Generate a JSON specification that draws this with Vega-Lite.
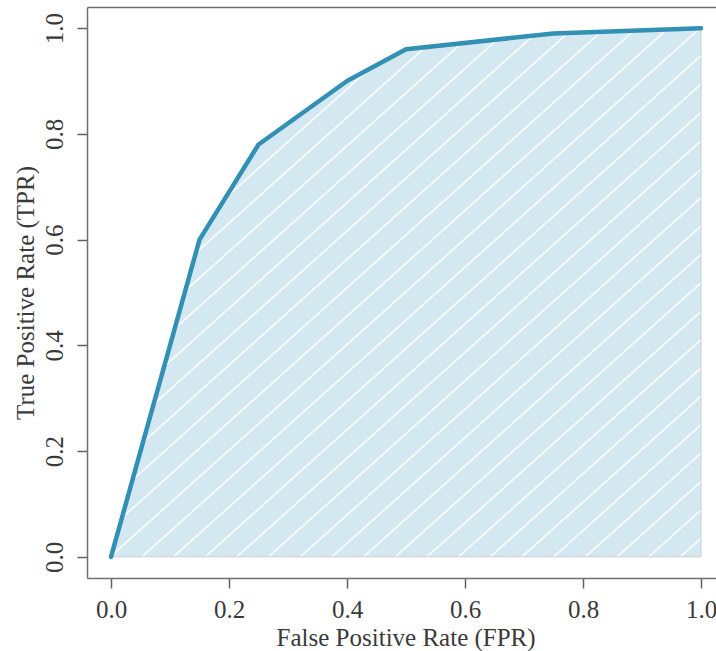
{
  "$schema": "https://vega.github.io/schema/vega-lite/v6.json",
  "autosize": "none",
  "width": 629,
  "height": 571,
  "padding": {"left": 87, "top": 7, "right": 0, "bottom": 73},
  "background": "white",
  "config": {
    "view": {"stroke": null},
    "font": "Liberation Serif",
    "axis": {
      "labelFont": "Liberation Serif",
      "titleFont": "Liberation Serif",
      "labelFontSize": 25,
      "titleFontSize": 25,
      "titleFontWeight": "normal",
      "labelColor": "#3a3a3a",
      "titleColor": "#3a3a3a",
      "grid": false,
      "domain": true,
      "domainColor": "#707070",
      "domainWidth": 1.5,
      "tickColor": "#606060",
      "tickWidth": 1.5,
      "tickSize": 10
    }
  },
  "data": {
    "values": [
      {"fpr": 0.0, "tpr": 0.0},
      {"fpr": 0.15, "tpr": 0.6},
      {"fpr": 0.25, "tpr": 0.78},
      {"fpr": 0.4, "tpr": 0.9},
      {"fpr": 0.5, "tpr": 0.96},
      {"fpr": 0.75, "tpr": 0.99},
      {"fpr": 1.0, "tpr": 1.0}
    ]
  },
  "encoding": {
    "x": {
      "field": "fpr",
      "type": "quantitative",
      "scale": {"domain": [-0.0407, 1.0254], "nice": false, "zero": false},
      "axis": {
        "values": [0, 0.2, 0.4, 0.6, 0.8, 1.0],
        "format": ".1f",
        "labelBaseline": "alphabetic",
        "labelPadding": 29,
        "labelFlush": false,
        "labelOverlap": false,
        "title": "False Positive Rate (FPR)",
        "titleX": 318.6,
        "titleY": 67,
        "titleAlign": "center",
        "titleBaseline": "alphabetic",
        "titleAnchor": null
      }
    },
    "y": {
      "field": "tpr",
      "type": "quantitative",
      "scale": {"domain": [-0.04, 1.04], "nice": false, "zero": false},
      "axis": {
        "values": [0, 0.2, 0.4, 0.6, 0.8, 1.0],
        "format": ".1f",
        "labelAngle": 270,
        "labelAlign": "center",
        "labelBaseline": "alphabetic",
        "labelPadding": 15,
        "labelFlush": false,
        "labelOverlap": false,
        "title": "True Positive Rate (TPR)",
        "titleAngle": 270,
        "titleX": -54,
        "titleY": 285.5,
        "titleAlign": "center",
        "titleBaseline": "alphabetic",
        "titleAnchor": null
      }
    }
  },
  "resolve": {"axis": {"x": "independent"}},
  "layer": [
    {
      "encoding": {
        "x": {
          "field": "fpr",
          "type": "quantitative",
          "scale": {"domain": [-0.0407, 1.0254], "nice": false, "zero": false},
          "axis": {"orient": "top", "labels": false, "ticks": false, "title": null, "domain": true}
        }
      },
      "mark": {
        "type": "area",
        "stroke": "#c9cfd2",
        "strokeWidth": 1,
        "fill": {
          "gradient": "linear",
          "x1": 0, "y1": 0, "x2": 1, "y2": 1,
          "stops": [
            {"offset": 0, "color": "#d4e8f1"},
            {"offset": 0.0143, "color": "#d4e8f1"}, {"offset": 0.0155, "color": "#fbfdfe"}, {"offset": 0.0163, "color": "#fbfdfe"}, {"offset": 0.0175, "color": "#d4e8f1"},
            {"offset": 0.04115, "color": "#d4e8f1"}, {"offset": 0.04235, "color": "#fbfdfe"}, {"offset": 0.04315, "color": "#fbfdfe"}, {"offset": 0.04435, "color": "#d4e8f1"},
            {"offset": 0.068, "color": "#d4e8f1"}, {"offset": 0.0692, "color": "#fbfdfe"}, {"offset": 0.07, "color": "#fbfdfe"}, {"offset": 0.0712, "color": "#d4e8f1"},
            {"offset": 0.09485, "color": "#d4e8f1"}, {"offset": 0.09605, "color": "#fbfdfe"}, {"offset": 0.09685, "color": "#fbfdfe"}, {"offset": 0.09805, "color": "#d4e8f1"},
            {"offset": 0.1217, "color": "#d4e8f1"}, {"offset": 0.1229, "color": "#fbfdfe"}, {"offset": 0.1237, "color": "#fbfdfe"}, {"offset": 0.1249, "color": "#d4e8f1"},
            {"offset": 0.14855, "color": "#d4e8f1"}, {"offset": 0.14975, "color": "#fbfdfe"}, {"offset": 0.15055, "color": "#fbfdfe"}, {"offset": 0.15175, "color": "#d4e8f1"},
            {"offset": 0.1754, "color": "#d4e8f1"}, {"offset": 0.1766, "color": "#fbfdfe"}, {"offset": 0.1774, "color": "#fbfdfe"}, {"offset": 0.1786, "color": "#d4e8f1"},
            {"offset": 0.20225, "color": "#d4e8f1"}, {"offset": 0.20345, "color": "#fbfdfe"}, {"offset": 0.20425, "color": "#fbfdfe"}, {"offset": 0.20545, "color": "#d4e8f1"},
            {"offset": 0.2291, "color": "#d4e8f1"}, {"offset": 0.2303, "color": "#fbfdfe"}, {"offset": 0.2311, "color": "#fbfdfe"}, {"offset": 0.2323, "color": "#d4e8f1"},
            {"offset": 0.25595, "color": "#d4e8f1"}, {"offset": 0.25715, "color": "#fbfdfe"}, {"offset": 0.25795, "color": "#fbfdfe"}, {"offset": 0.25915, "color": "#d4e8f1"},
            {"offset": 0.2828, "color": "#d4e8f1"}, {"offset": 0.284, "color": "#fbfdfe"}, {"offset": 0.2848, "color": "#fbfdfe"}, {"offset": 0.286, "color": "#d4e8f1"},
            {"offset": 0.30965, "color": "#d4e8f1"}, {"offset": 0.31085, "color": "#fbfdfe"}, {"offset": 0.31165, "color": "#fbfdfe"}, {"offset": 0.31285, "color": "#d4e8f1"},
            {"offset": 0.3365, "color": "#d4e8f1"}, {"offset": 0.3377, "color": "#fbfdfe"}, {"offset": 0.3385, "color": "#fbfdfe"}, {"offset": 0.3397, "color": "#d4e8f1"},
            {"offset": 0.36335, "color": "#d4e8f1"}, {"offset": 0.36455, "color": "#fbfdfe"}, {"offset": 0.36535, "color": "#fbfdfe"}, {"offset": 0.36655, "color": "#d4e8f1"},
            {"offset": 0.3902, "color": "#d4e8f1"}, {"offset": 0.3914, "color": "#fbfdfe"}, {"offset": 0.3922, "color": "#fbfdfe"}, {"offset": 0.3934, "color": "#d4e8f1"},
            {"offset": 0.41705, "color": "#d4e8f1"}, {"offset": 0.41825, "color": "#fbfdfe"}, {"offset": 0.41905, "color": "#fbfdfe"}, {"offset": 0.42025, "color": "#d4e8f1"},
            {"offset": 0.4439, "color": "#d4e8f1"}, {"offset": 0.4451, "color": "#fbfdfe"}, {"offset": 0.4459, "color": "#fbfdfe"}, {"offset": 0.4471, "color": "#d4e8f1"},
            {"offset": 0.47075, "color": "#d4e8f1"}, {"offset": 0.47195, "color": "#fbfdfe"}, {"offset": 0.47275, "color": "#fbfdfe"}, {"offset": 0.47395, "color": "#d4e8f1"},
            {"offset": 0.4976, "color": "#d4e8f1"}, {"offset": 0.4988, "color": "#fbfdfe"}, {"offset": 0.4996, "color": "#fbfdfe"}, {"offset": 0.5008, "color": "#d4e8f1"},
            {"offset": 0.52445, "color": "#d4e8f1"}, {"offset": 0.52565, "color": "#fbfdfe"}, {"offset": 0.52645, "color": "#fbfdfe"}, {"offset": 0.52765, "color": "#d4e8f1"},
            {"offset": 0.5513, "color": "#d4e8f1"}, {"offset": 0.5525, "color": "#fbfdfe"}, {"offset": 0.5533, "color": "#fbfdfe"}, {"offset": 0.5545, "color": "#d4e8f1"},
            {"offset": 0.57815, "color": "#d4e8f1"}, {"offset": 0.57935, "color": "#fbfdfe"}, {"offset": 0.58015, "color": "#fbfdfe"}, {"offset": 0.58135, "color": "#d4e8f1"},
            {"offset": 0.605, "color": "#d4e8f1"}, {"offset": 0.6062, "color": "#fbfdfe"}, {"offset": 0.607, "color": "#fbfdfe"}, {"offset": 0.6082, "color": "#d4e8f1"},
            {"offset": 0.63185, "color": "#d4e8f1"}, {"offset": 0.63305, "color": "#fbfdfe"}, {"offset": 0.63385, "color": "#fbfdfe"}, {"offset": 0.63505, "color": "#d4e8f1"},
            {"offset": 0.6587, "color": "#d4e8f1"}, {"offset": 0.6599, "color": "#fbfdfe"}, {"offset": 0.6607, "color": "#fbfdfe"}, {"offset": 0.6619, "color": "#d4e8f1"},
            {"offset": 0.68555, "color": "#d4e8f1"}, {"offset": 0.68675, "color": "#fbfdfe"}, {"offset": 0.68755, "color": "#fbfdfe"}, {"offset": 0.68875, "color": "#d4e8f1"},
            {"offset": 0.7124, "color": "#d4e8f1"}, {"offset": 0.7136, "color": "#fbfdfe"}, {"offset": 0.7144, "color": "#fbfdfe"}, {"offset": 0.7156, "color": "#d4e8f1"},
            {"offset": 0.73925, "color": "#d4e8f1"}, {"offset": 0.74045, "color": "#fbfdfe"}, {"offset": 0.74125, "color": "#fbfdfe"}, {"offset": 0.74245, "color": "#d4e8f1"},
            {"offset": 0.7661, "color": "#d4e8f1"}, {"offset": 0.7673, "color": "#fbfdfe"}, {"offset": 0.7681, "color": "#fbfdfe"}, {"offset": 0.7693, "color": "#d4e8f1"},
            {"offset": 0.79295, "color": "#d4e8f1"}, {"offset": 0.79415, "color": "#fbfdfe"}, {"offset": 0.79495, "color": "#fbfdfe"}, {"offset": 0.79615, "color": "#d4e8f1"},
            {"offset": 0.8198, "color": "#d4e8f1"}, {"offset": 0.821, "color": "#fbfdfe"}, {"offset": 0.8218, "color": "#fbfdfe"}, {"offset": 0.823, "color": "#d4e8f1"},
            {"offset": 0.84665, "color": "#d4e8f1"}, {"offset": 0.84785, "color": "#fbfdfe"}, {"offset": 0.84865, "color": "#fbfdfe"}, {"offset": 0.84985, "color": "#d4e8f1"},
            {"offset": 0.8735, "color": "#d4e8f1"}, {"offset": 0.8747, "color": "#fbfdfe"}, {"offset": 0.8755, "color": "#fbfdfe"}, {"offset": 0.8767, "color": "#d4e8f1"},
            {"offset": 0.90035, "color": "#d4e8f1"}, {"offset": 0.90155, "color": "#fbfdfe"}, {"offset": 0.90235, "color": "#fbfdfe"}, {"offset": 0.90355, "color": "#d4e8f1"},
            {"offset": 0.9272, "color": "#d4e8f1"}, {"offset": 0.9284, "color": "#fbfdfe"}, {"offset": 0.9292, "color": "#fbfdfe"}, {"offset": 0.9304, "color": "#d4e8f1"},
            {"offset": 0.95405, "color": "#d4e8f1"}, {"offset": 0.95525, "color": "#fbfdfe"}, {"offset": 0.95605, "color": "#fbfdfe"}, {"offset": 0.95725, "color": "#d4e8f1"},
            {"offset": 0.9809, "color": "#d4e8f1"}, {"offset": 0.9821, "color": "#fbfdfe"}, {"offset": 0.9829, "color": "#fbfdfe"}, {"offset": 0.9841, "color": "#d4e8f1"},
            {"offset": 1, "color": "#d4e8f1"}
          ]
        }
      }
    },
    {
      "mark": {
        "type": "line",
        "color": "#3390b5",
        "strokeWidth": 4.5,
        "strokeJoin": "round",
        "strokeCap": "round"
      }
    }
  ]
}
